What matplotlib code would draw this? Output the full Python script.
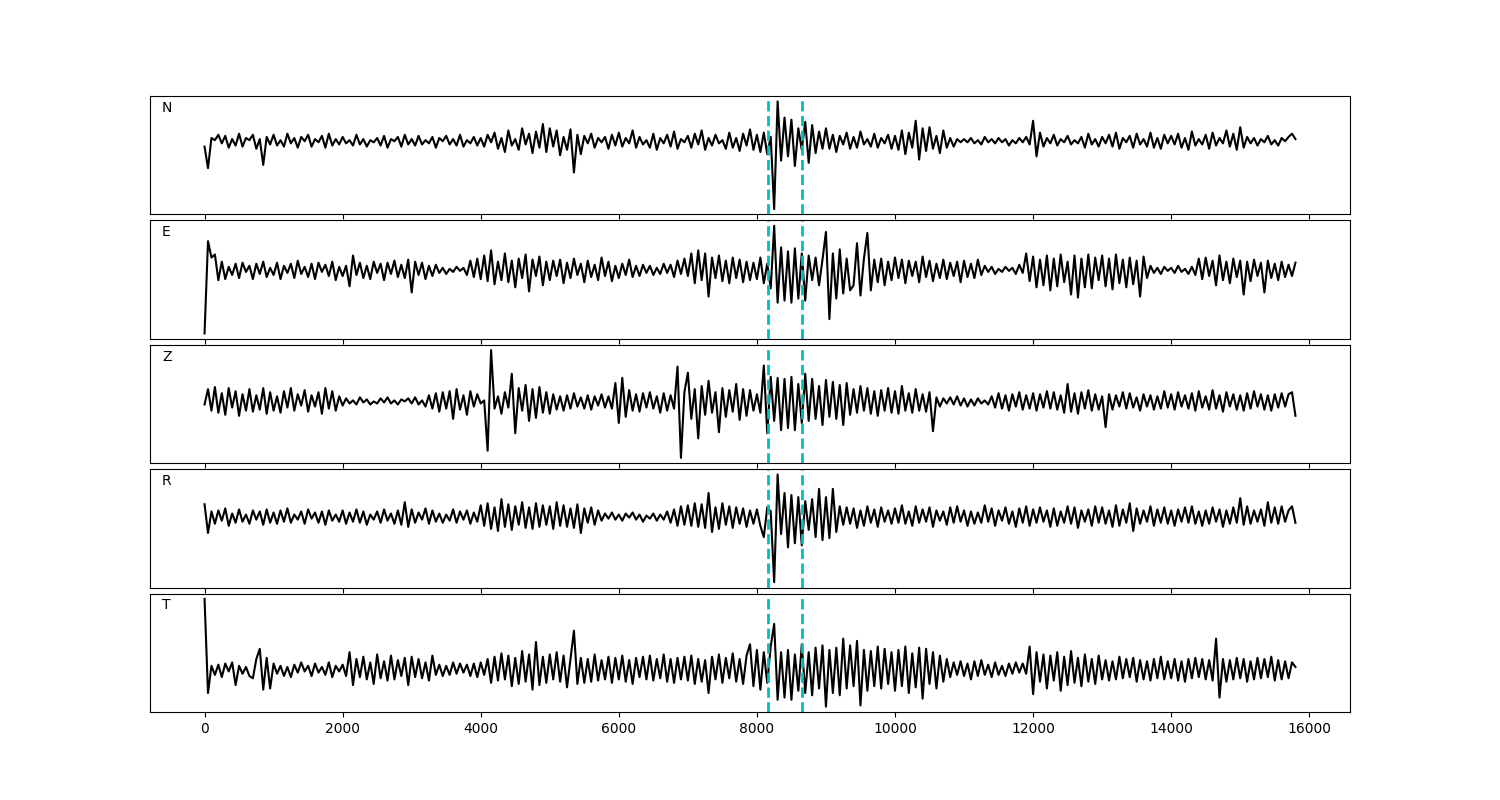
import numpy as np
import matplotlib
matplotlib.use('Agg')
import matplotlib.pyplot as plt

# sample spacing of the traces (samples between points)
dt = 50

# picks shown as dashed lines
picks = [8160, 8650]

channels = ['N', 'E', 'Z', 'R', 'T']

n_trace = [
    -5, -25, 3, 1, 6, -2, 5, -6, 2, -4, 7, -5, 3, 1, 6, -7, 2, -22, 4, -3,
    6, -4, 1, -5, 7, -2, 3, -6, 4, 0, 6, -5, 2, -1, 5, -6, 7, -4, 2, -3,
    4, -2, 1, -4, 6, -3, 2, -5, 1, -1, 3, -4, 5, -6, 2, 0, 4, -5, 6, -3,
    2, -4, 5, -3, 1, -2, 4, -6, 3, 0, 5, -3, 2, -4, 6, -5, 1, -2, 4, -4,
    3, -5, 6, -1, 8, -7, 3, -10, 10, -4, 2, -8, 12, -3, 7, -11, 9, -6, 16, -10,
    12, -5, 10, -13, 4, -8, 11, -29, 6, -12, 5, -2, 7, -6, 3, -1, 4, -7, 6, -4,
    8, -5, 3, -2, 10, -6, 4, -3, 1, -6, 7, -8, 3, -2, 6, -5, 9, -7, 2, -1,
    5, -6, 7, -3, 10, -8, 3, -4, 6, -2, 1, -7, 8, -6, 3, -9, 7, -4, 11, -8,
    6, -10, 8, -12, 4, -63, 37, -18, 22, -14, 20, -23, 12, -8, 18, -20, 15, -11, 9, -7,
    12, -7, 6, -10, 5, -3, 8, -7, 4, -6, 9, -3, 2, -5, 7, -6, 3, -2, 6, -7,
    5, -8, 10, -12, 8, -6, 19, -17, 12, -9, 13, -7, 5, -11, 10, -6, 3, -5, 2, -1,
    2, -1, 3, -2, 1, -3, 4, -1, 2, -2, 3, -1, 2, -4, 1, -2, 3, -1, 4, -3,
    19, -14, 8, -5, 3, -2, 6, -4, 2, -1, 5, -3, 1, -2, 4, -6, 7, -3, 2, -5,
    4, -2, 6, -5, 8, -7, 3, -1, 5, -6, 7, -3, 2, -5, 8, -6, 3, -7, 6, -2,
    5, -3, 7, -6, 3, -8, 9, -4, 2, -3, 6, -7, 8, -4, 3, -2, 10, -5, 7, -8,
    13, -6, 4, -2, 3, -4, 2, -1, 5, -3, 1, -4, 3, 0, 4, 7, 2,
]

e_trace = [
    -62, 28, 12, 15, -10, 8, -9, 3, -5, 6, -8, 7, -2, 4, -9, 6, -4, 8, -7, 2,
    -5, 7, -9, 4, -3, 6, -8, 9, -4, 3, -7, 6, -9, 7, -2, 5, -6, 8, -10, 3,
    -6, 4, -16, 14, -5, 7, -8, 4, -9, 8, -3, 6, -10, 7, -4, 9, -7, 5, -8, 10,
    -22, 8, -5, 7, -9, 4, -6, 5, -3, 2, -4, 1, -2, 3, -1, 2, -5, 9, -7, 11,
    -9, 14, -11, 19, -14, 8, -10, 16, -12, 9, -17, 11, -8, 15, -21, 10, -6, 13, -15, 8,
    -10, 9, -6, 10, -13, 7, -8, 11, -5, 6, -12, 9, -7, 5, -10, 12, -6, 8, -11, 4,
    -8, 6, -5, 10, -7, 4, -6, 5, -3, 4, -5, 2, -4, 6, -3, 5, -7, 9, -4, 11,
    -6, 16, -13, 19, -10, 16, -26, 12, -8, 14, -11, 9, -13, 12, -8, 10, -12, 8, -10, 7,
    -9, 12, -13, 6, -18, 43, -32, 22, -30, 18, -32, 21, -28, 16, -30, 14, -10, 12, -15, 10,
    37, -48, 16, -28, 20, -23, 11, -20, -15, 26, -25, 11, 36, -20, 10, -12, 11, -15, 8, -10,
    12, -8, 10, -13, 9, -6, 8, -12, 13, -7, 9, -11, 6, -8, 10, -9, 7, -6, 8, -12,
    9, -7, 6, -8, 10, -5, 4, -2, 3, -4, 1, -2, 3, -1, 2, -4, 5, -3, 16, -11,
    13, -17, 10, -15, 14, -20, 11, -16, 15, -12, 8, -24, 14, -27, 11, -17, 15, -18, 12, -10,
    14, -16, 11, -19, 15, -13, 10, -17, 12, -14, 9, -26, 13, -8, 4, -3, 2, -4, 3, -1,
    2, -3, 4, -2, 1, -4, 3, -5, 11, -9, 12, -6, 9, -15, 14, -10, 8, -13, 11, -7,
    9, -24, 8, -11, 10, -6, 7, -22, 9, -8, 6, -10, 8, -7, 5, -6, 7,
]

z_trace = [
    -3, 12, -9, 14, -11, 8, -13, 13, -6, 10, -14, 7, -9, 12, -10, 6, -8, 13, -12, 9,
    -9, 5, -11, 10, -6, 13, -9, 7, -4, 11, -10, 6, -5, 9, -12, 13, -7, 10, -9, 5,
    -4, 3, -2, 1, -3, 4, -1, 2, -3, 0, -2, 3, -1, 4, -2, 1, -3, 2, 0, 3,
    -2, 4, -3, 1, -5, 6, -7, 8, -10, 9, -7, 10, -17, 12, -8, 6, -13, 10, -5, 7,
    -2, 1, -48, 50, -7, 5, -12, 9, -6, 27, -31, 13, -9, 16, -19, 12, -16, 14, -11, 9,
    -12, 7, -8, 5, -9, 6, -7, 8, -5, 4, -7, 6, -8, 5, -4, 7, -6, 5, -7, 18,
    -21, 23, -15, 11, -9, 7, -10, 8, -6, 9, -7, 5, -11, 8, -9, 6, -7, 34, -55, 9,
    28, -17, 12, -36, 15, -13, 20, -11, 9, -30, 13, -15, 11, -10, 17, -18, 12, -14, 11, -9,
    7, -11, 35, -31, 24, -19, 23, -28, 22, -26, 24, -28, 17, -21, 27, -19, 22, -17, 15, -23,
    21, -15, 19, -17, 16, -23, 18, -13, 12, -11, 15, -9, 13, -12, 10, -14, 11, -9, 13, -11,
    10, -12, 15, -9, 8, -11, 12, -9, 7, -10, 9, -29, 4, -5, 3, -2, 4, -3, 5, -4,
    3, -5, 2, -4, 3, -2, 1, -3, 5, -6, 8, -7, 6, -9, 7, -5, 9, -8, 6, -7,
    8, -9, 7, -6, 10, -7, 9, -8, 6, -11, 17, -10, 8, -12, 9, -7, 11, -9, 7, -8,
    5, -25, 7, -8, 6, -5, 9, -7, 8, -6, 4, -9, 7, -5, 6, -8, 5, -7, 10, -6,
    7, -8, 9, -5, 6, -7, 8, -9, 10, -6, 5, -8, 11, -7, 6, -10, 9, -5, 7, -8,
    6, -9, 8, -7, 10, -5, 7, -8, 6, -9, 7, -6, 8, -5, 7, 9, -14,
]

r_trace = [
    12, -16, 5, -7, 6, -4, 8, -9, 3, -6, 7, -5, 2, -7, 6, -3, 5, -8, 7, -6,
    4, -7, 6, -5, 8, -6, 2, -3, 5, -7, 7, -2, 4, -6, 5, -8, 6, -4, 2, -5,
    6, -7, 4, -5, 7, -6, 5, -8, 2, -3, 5, -6, 7, -4, 3, -7, 6, -8, 14, -10,
    7, -6, 4, -3, 8, -7, 6, -5, 3, -6, 2, -4, 7, -6, 5, -3, 6, -7, 4, -5,
    11, -9, 13, -12, 9, -14, 17, -10, 12, -13, 10, -8, 14, -11, 9, -12, 13, -10, 11, -8,
    10, -12, 14, -9, 11, -10, 8, -11, 12, -16, 8, -6, 9, -8, 6, -4, 3, -2, 4, -3,
    2, -4, 3, -1, 4, -3, 2, -5, 1, -2, 3, -4, 2, -3, 5, -6, 7, -9, 10, -8,
    11, -9, 13, -10, 12, -11, 23, -15, 9, -12, 13, -8, 10, -11, 9, -7, 8, -10, 6, -7,
    7, -9, -20, 9, 5, -64, 41, -17, 23, -30, 21, -26, 19, -28, 15, -13, 17, -20, 27, -23,
    19, -21, 27, -15, 10, -8, 9, -7, 8, -11, 6, -9, 10, -6, 7, -10, 9, -5, 6, -7,
    8, -6, 11, -7, 5, -9, 10, -6, 7, -5, 9, -10, 6, -4, 5, -8, 9, -6, 10, -5,
    6, -9, 5, -7, 4, -6, 11, -5, 8, -9, 6, -4, 9, -7, 5, -10, 8, -6, 10, -9,
    7, -6, 9, -5, 6, -10, 8, -9, 5, -6, 10, -7, 9, -11, 6, -5, 7, -9, 10, -6,
    9, -7, 6, -10, 11, -9, 7, -6, 13, -14, 8, -7, 6, -5, 10, -9, 7, -6, 9, -7,
    6, -9, 7, -5, 9, -6, 10, -7, 5, -9, 6, -7, 9, -5, 7, -10, 6, -7, 9, -6,
    18, -8, 10, -7, 6, -5, 7, -9, 14, -6, 9, -7, 10, -5, 6, 10, -6,
]

t_trace = [
    62, -21, 3, -5, 4, -7, 5, -2, 6, -14, 3, -4, 2, -6, -8, 9, 18, -18, 10, -17,
    5, -4, 3, -6, 2, -7, 4, -3, 6, -2, 3, -6, 5, -3, 2, -5, 6, -7, 3, -2,
    4, -6, 15, -14, 9, -7, 11, -9, 6, -13, 13, -8, 7, -10, 12, -9, 8, -6, 10, -14,
    11, -7, 9, -8, 6, -10, 12, -5, 4, -6, 3, -5, 6, -4, 5, -3, 4, -6, 5, -7,
    6, -5, 9, -12, 11, -10, 14, -9, 12, -15, 10, -13, 16, -11, 13, -18, 24, -14, 11, -12,
    13, -9, 15, -11, 12, -16, 9, 34, -13, 10, -12, 9, -11, 13, -10, 8, -9, 11, -12, 10,
    -9, 12, -11, 8, -13, 10, -7, 11, -9, 12, -10, 9, -8, 13, -11, 9, -12, 10, -9, 11,
    -10, 12, -13, 9, -11, 8, -21, 11, -9, 13, -12, 10, -8, 14, -11, 9, -13, 12, 22, -15,
    17, -18, 15, -12, 20, 40, -27, 15, -25, 17, -27, 13, -19, 22, -21, 15, -23, 19, -17, 21,
    -33, 17, -21, 19, -23, 27, -17, 21, -15, 25, -32, 17, -19, 16, -15, 20, -17, 18, -13, 15,
    -19, 17, -15, 20, -21, 14, -16, 19, -26, 18, -13, 15, -17, 12, -11, 9, -7, 6, -5, 7,
    -6, 5, -9, 7, -6, 8, -5, 4, -7, 6, -5, 3, -6, 5, -4, 6, -3, 5, -4, 20,
    -22, 15, -11, 13, -17, 12, -10, 15, -19, 11, -14, 16, -12, 10, -15, 13, -11, 9, -13, 12,
    -9, 8, -10, 7, -9, 11, -8, 9, -7, 10, -11, 8, -9, 7, -10, 9, -8, 11, -9, 7,
    -8, 9, -10, 7, -11, 9, -8, 10, -7, 9, -9, 8, -10, 27, -25, 9, -11, 8, -9, 10,
    -8, 9, -11, 7, -9, 10, -8, 9, -7, 11, -10, 8, -9, 7, -8, 6, 2,
]

traces = [n_trace, e_trace, z_trace, r_trace, t_trace]

fig, axes = plt.subplots(5, 1, sharex=True, figsize=(15, 8), dpi=100)
fig.subplots_adjust(left=0.1, right=0.9, top=0.88, bottom=0.11, hspace=0.05)

for ax, name, tr in zip(axes, channels, traces):
    x = np.arange(len(tr)) * dt
    ax.plot(x, tr, color='k', lw=1.5)
    for p in picks:
        ax.axvline(p, color='c', ls='--', lw=2)
    ax.set_yticks([])
    ax.text(0.01, 0.9, name, transform=ax.transAxes, va='center', ha='left')

plt.savefig('out.png')
